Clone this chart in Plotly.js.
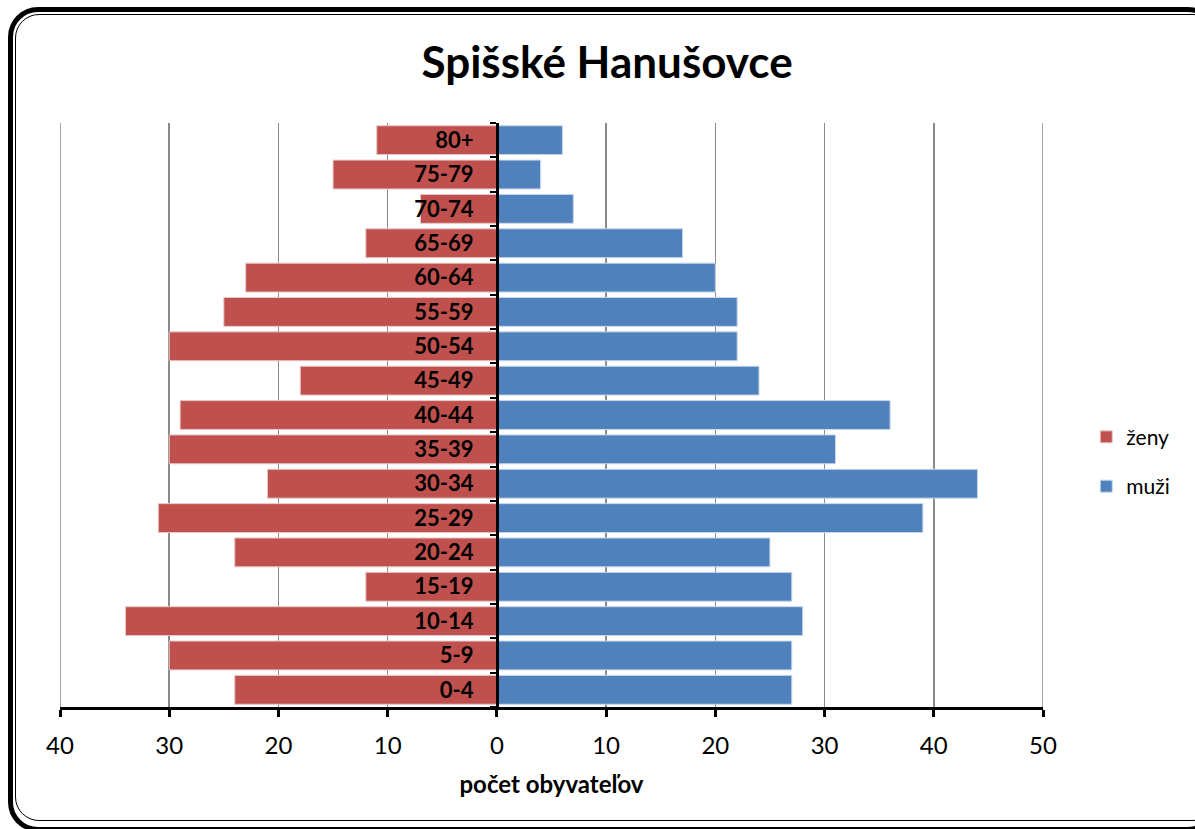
<!DOCTYPE html>
<html>
<head>
<meta charset="utf-8">
<script src="https://cdn.plot.ly/plotly-3.0.1.min.js"></script>
<style>
  html, body { margin: 0; padding: 0; background: #fff; overflow: hidden; }
  #frameOuter { position: absolute; left: 8px; top: 7px; width: 1200px; height: 815px;
    border: 5px solid #000; border-radius: 30px; box-sizing: content-box; }
  #frameInner { position: absolute; left: 15px; top: 14px; width: 1200px; height: 805px;
    border: 1.5px solid #000; border-radius: 24px; }
  #chart { position: absolute; left: 0; top: 0; width: 1195px; height: 829px; }
</style>
</head>
<body>
<div id="frameOuter"></div>
<div id="frameInner"></div>
<div id="chart"></div>
<script>
const ageGroups = ["0-4","5-9","10-14","15-19","20-24","25-29","30-34","35-39","40-44","45-49","50-54","55-59","60-64","65-69","70-74","75-79","80+"];
const zeny = [24,30,34,12,24,31,21,30,29,18,30,25,23,12,7,15,11];
const muzi = [27,27,28,27,25,39,44,31,36,24,22,22,20,17,7,4,6];
const xTickVals = [-40,-30,-20,-10,0,10,20,30,40,50];
const xTickText = ["40","30","20","10","0","10","20","30","40","50"];

const zenyNeg = zeny.map(v => -v);
const FONT = "Lato, 'Open Sans', sans-serif";
const xMin = xTickVals[0], xMax = xTickVals[xTickVals.length - 1];

const traces = [
  { type: "bar", orientation: "h", name: "ženy", y: ageGroups, x: zenyNeg,
    marker: { color: "#C0504D", line: { color: "#e6c8c7", width: 1 } },
    legendgroup: "z", hoverinfo: "skip" },
  { type: "bar", orientation: "h", name: "muži", y: ageGroups, x: muzi,
    marker: { color: "#4F81BD", line: { color: "#c9d7ea", width: 1 } },
    legendgroup: "m", hoverinfo: "skip" }
];

// edge gridlines (Plotly hides gridlines that coincide with the plot edges)
const edgeGrid = [xMin, xMax].map(v => ({
  type: "line", xref: "x", yref: "paper", x0: v, x1: v, y0: 0, y1: 1,
  line: { color: "#8a8a8a", width: 1.5 }, layer: "below"
}));

const layout = {
  width: 1195, height: 829,
  paper_bgcolor: "rgba(0,0,0,0)", plot_bgcolor: "rgba(0,0,0,0)",
  margin: { l: 60, r: 152, t: 123, b: 122, autoexpand: false },
  font: { family: FONT, color: "#000" },
  barmode: "relative", bargap: 0.16,
  title: { text: "<b>Spišské Hanušovce</b>", font: { size: 44, family: FONT, color: "#000" },
    x: 0.508, xanchor: "center", y: 1 - 63/829, yanchor: "middle", yref: "container" },
  xaxis: {
    range: [xMin, xMax], tickvals: xTickVals, ticktext: xTickText,
    showgrid: true, gridcolor: "#8a8a8a", gridwidth: 1.5, zeroline: false,
    showline: true, linecolor: "#000", linewidth: 3,
    ticks: "outside", ticklen: 7, tickwidth: 3, tickcolor: "#000",
    tickfont: { size: 24, family: FONT, color: "#000" },
    ticklabelstandoff: 8,
    title: { text: "<b>počet obyvateľov</b>", font: { size: 24, family: FONT, color: "#000" }, standoff: 19 },
    fixedrange: true
  },
  yaxis: {
    type: "category", categoryorder: "array", categoryarray: ageGroups,
    anchor: "free", position: (0 - xMin) / (xMax - xMin),
    showline: true, linecolor: "#000", linewidth: 3,
    ticks: "outside", ticklen: 6, tickwidth: 2, tickcolor: "#000", tickson: "boundaries",
    showgrid: false, zeroline: false,
    tickfont: { size: 22, family: FONT, color: "#000", weight: "bold" },
    ticklabelstandoff: 18,
    fixedrange: true
  },
  shapes: edgeGrid,
  showlegend: true,
  legend: { x: 1.044, xanchor: "left", y: 0.42, yanchor: "middle",
    font: { size: 21, family: FONT, color: "#000" }, traceorder: "grouped",
    tracegroupgap: 19, itemwidth: 30, bgcolor: "rgba(0,0,0,0)" }
};

Plotly.newPlot("chart", traces, layout, { staticPlot: true, displayModeBar: false });
</script>
</body>
</html>
